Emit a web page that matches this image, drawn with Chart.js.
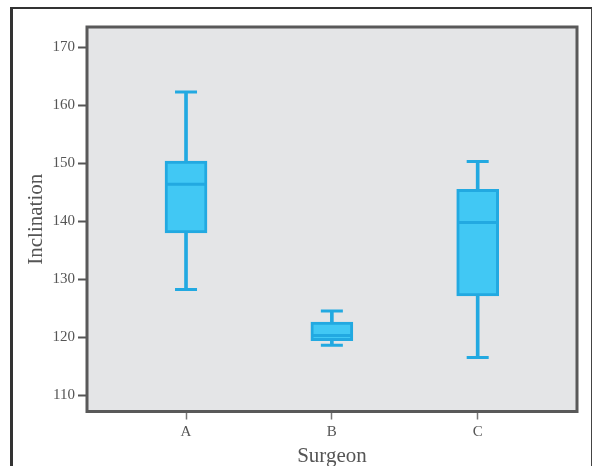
<!DOCTYPE html>
<html>
<head>
<meta charset="utf-8">
<script src="https://cdn.jsdelivr.net/npm/chart.js@4/dist/chart.umd.min.js"></script>
<style>
  html, body { margin: 0; padding: 0; background: #ffffff; }
  #wrap { position: relative; width: 592px; height: 466px; }
  #frame { position: absolute; left: 10px; top: 7px; width: 578px; height: 470px;
           border-left: 3px solid #333; border-top: 2px solid #333; border-right: 2px solid #444; }
  canvas { position: absolute; left: 0; top: 0; }
</style>
</head>
<body>
<div id="wrap">
  <div id="frame"></div>
  <canvas id="c" width="592" height="466"></canvas>
</div>
<script>
// Data
const categories = ['A', 'B', 'C'];
const whiskerLow  = [128.2, 118.6, 116.5];
const quartile1   = [138.0, 119.4, 127.1];
const medians     = [146.4, 120.3, 139.8];
const quartile3   = [150.4, 122.6, 145.5];
const whiskerHigh = [162.3, 124.5, 150.3];
const yTicks = [110, 120, 130, 140, 150, 160, 170];

const positions = categories.map((_, i) => i + 1);
const strokeColor = '#22a9e1';
const fillColor = '#41c8f4';

const plotFrame = {
  id: 'plotFrame',
  beforeDraw(chart) {
    const a = chart.chartArea, ctx = chart.ctx;
    ctx.save();
    ctx.fillStyle = '#e4e5e7';
    ctx.fillRect(a.left, a.top, a.right - a.left, a.bottom - a.top);
    ctx.restore();
  },
  afterDraw(chart) {
    const a = chart.chartArea, ctx = chart.ctx;
    ctx.save();
    ctx.strokeStyle = '#595959';
    ctx.lineWidth = 3;
    ctx.strokeRect(a.left, a.top, a.right - a.left, a.bottom - a.top);
    ctx.restore();
  }
};

const serif = "'Liberation Serif', 'DejaVu Serif', serif";

new Chart(document.getElementById('c'), {
  type: 'bar',
  data: {
    datasets: [
      {
        type: 'scatter',
        label: 'median',
        data: positions.map((x, i) => ({ x, y: medians[i] })),
        pointStyle: 'line',
        pointRadius: 19,
        pointHoverRadius: 19,
        borderColor: strokeColor,
        borderWidth: 3,
        order: 0
      },
      {
        type: 'scatter',
        label: 'caps',
        data: positions.map((x, i) => ({ x, y: whiskerLow[i] }))
          .concat(positions.map((x, i) => ({ x, y: whiskerHigh[i] }))),
        pointStyle: 'line',
        pointRadius: 11,
        pointHoverRadius: 11,
        borderColor: strokeColor,
        borderWidth: 3,
        order: 1
      },
      {
        label: 'box',
        data: positions.map((x, i) => ({ x, y: [quartile1[i], quartile3[i]] })),
        backgroundColor: fillColor,
        borderColor: strokeColor,
        borderWidth: 3,
        borderSkipped: false,
        barThickness: 42,
        grouped: false,
        order: 2
      },
      {
        label: 'whisker',
        data: positions.map((x, i) => ({ x, y: [whiskerLow[i], whiskerHigh[i]] })),
        backgroundColor: strokeColor,
        borderWidth: 0,
        barThickness: 3,
        grouped: false,
        order: 3
      }
    ]
  },
  options: {
    responsive: false,
    animation: false,
    layout: { autoPadding: false, padding: { top: 27, right: 15, left: 0, bottom: 0 } },
    plugins: { legend: { display: false }, tooltip: { enabled: false } },
    scales: {
      x: {
        type: 'linear',
        offset: false,
        min: 0.321,
        max: 3.681,
        afterFit(s) { s.height = 54.5; s.paddingLeft = 0; s.paddingRight = 0; },
        afterBuildTicks(s) { s.ticks = positions.map(v => ({ value: v })); },
        ticks: {
          callback: (v) => categories[v - 1],
          color: '#555',
          font: { family: serif, size: 15 },
          padding: 4,
          maxRotation: 0
        },
        grid: { offset: false, drawOnChartArea: false, tickLength: 8, tickColor: '#777', tickWidth: 1.5 },
        border: { display: false },
        title: {
          display: true,
          text: 'Surgeon',
          color: '#555',
          font: { family: serif, size: 21 },
          padding: { top: 0, bottom: -3 }
        }
      },
      y: {
        type: 'linear',
        min: 107.16,
        max: 173.53,
        afterFit(s) { s.width = 87; },
        afterBuildTicks(s) { s.ticks = yTicks.map(v => ({ value: v })); },
        ticks: {
          color: '#555',
          font: { family: serif, size: 15 },
          padding: 3
        },
        grid: { drawOnChartArea: false, tickLength: 9, tickColor: '#555', tickWidth: 2 },
        border: { display: false },
        title: {
          display: true,
          text: 'Inclination',
          color: '#555',
          font: { family: serif, size: 21 },
          padding: { top: 24, bottom: 0 }
        }
      }
    }
  },
  plugins: [plotFrame]
});
</script>
</body>
</html>
